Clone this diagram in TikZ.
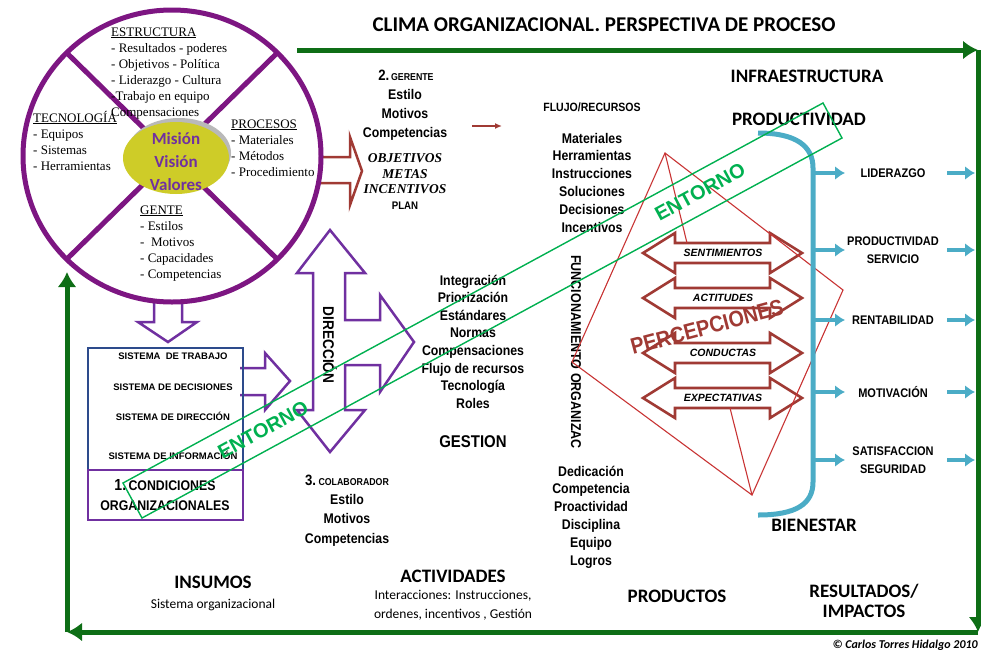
\documentclass[tikz,border=0pt]{standalone}
\usepackage{fontspec}
\setmainfont{Liberation Serif}
\newfontfamily\arialfont{Liberation Sans}
\newfontfamily\narrowfont[FakeStretch=0.88]{Liberation Sans}
\newfontfamily\calibrifont{Carlito}
\usepackage{xcolor}
\usepackage{tikz}
\usetikzlibrary{arrows.meta}

\definecolor{framegreen}{RGB}{14,110,22}
\definecolor{wheelpurple}{RGB}{125,22,130}
\definecolor{arrowpurple}{RGB}{112,48,160}
\definecolor{boxblue}{RGB}{45,75,140}
\definecolor{darkred}{RGB}{160,58,52}
\definecolor{linered}{RGB}{200,52,52}
\definecolor{entornogreen}{RGB}{0,176,80}
\definecolor{aqua}{RGB}{75,172,198}
\definecolor{coreyellow}{RGB}{206,204,40}

\tikzset{
  frame/.style={draw=framegreen, line width=5pt, -{Latex[length=15pt,width=19pt]}},
  wheel/.style={draw=wheelpurple, line width=5pt},
  hollowpurple/.style={draw=arrowpurple, line width=2.5pt, fill=white, line join=miter},
  hollowred/.style={draw=darkred, line width=2.5pt, fill=white, line join=miter},
  dblarrow/.style={draw=darkred, line width=2.6pt, fill=white, line join=miter},
  redline/.style={draw=linered, line width=1.1pt},
  entorno/.style={draw=entornogreen, line width=1.4pt},
  aquaarrow/.style={draw=aqua, line width=4pt, -{Latex[length=10pt,width=14pt]}},
  circtxt/.style={font=\fontsize{13}{15}\selectfont, anchor=base west, inner sep=0pt},
  midtxt/.style={font=\narrowfont\bfseries\fontsize{14}{16}\selectfont, anchor=base, inner sep=0pt},
  systxt/.style={font=\arialfont\bfseries\fontsize{9.5}{11}\selectfont, anchor=base, inner sep=0pt},
  bigtxt/.style={font=\calibrifont\bfseries\fontsize{19}{22}\selectfont, anchor=base, inner sep=0pt},
  smalltxt/.style={font=\calibrifont\fontsize{13.5}{16}\selectfont, anchor=base, inner sep=0pt},
  arrowtxt/.style={font=\arialfont\bfseries\itshape\fontsize{10.5}{12}\selectfont, anchor=base, inner sep=0pt},
}

\begin{document}
\begin{tikzpicture}[x=1pt, y=-1pt]
\useasboundingbox (0,0) rectangle (981,651);

% process loop
\coordinate (ftl) at (297,50);
\coordinate (ftr) at (978,50);
\coordinate (fbr) at (978,632);
\coordinate (fbl) at (67,632);
\coordinate (fl) at (67,272);
\draw[frame] (ftl) -- (ftr);
\draw[frame] (ftr) -- (fbr);
\draw[frame] (fbr) -- (fbl);
\draw[frame] (fbl) -- (fl);
\node[bigtxt, font=\calibrifont\bfseries\fontsize{21}{24}\selectfont] (title) at (604,31) {CLIMA ORGANIZACIONAL. PERSPECTIVA DE PROCESO};

% hollow arrows leaving the wheel
\draw[hollowred] (315,157) -- (350,157) -- (350,137) -- (362,171) -- (350,205) -- (350,183) -- (315,183);
\draw[hollowpurple] (154,296) -- (182,296) -- (182,322) -- (197,322) -- (168,342) -- (138,322) -- (154,322) -- cycle;

% the wheel
\coordinate (org) at (172,156);
\draw[wheel, fill=white] (org) ellipse [x radius=149pt, y radius=146pt];
\draw[wheel] (org) +(135:149pt and 146pt) -- +(-45:149pt and 146pt);
\draw[wheel] (org) +(45:149pt and 146pt) -- +(-135:149pt and 146pt);

\foreach \t [count=\i from 0] in {\underline{ESTRUCTURA}, - Resultados - poderes,
    - Objetivos - Política, - Liderazgo - Cultura, -Trabajo en equipo, Compensaciones}
  \node[circtxt] (estr\i) at (111,36+16*\i) {\t};
\foreach \t [count=\i from 0] in {\underline{TECNOLOGÍA}, - Equipos, - Sistemas, - Herramientas}
  \node[circtxt] (tec\i) at (33,122+16*\i) {\t};
\foreach \t [count=\i from 0] in {\underline{PROCESOS}, - Materiales, - Métodos, - Procedimiento}
  \node[circtxt] (proc\i) at (231,128+16*\i) {\t};
\foreach \t [count=\i from 0] in {\underline{GENTE}, - Estilos, -\ \ Motivos, - Capacidades, - Competencias}
  \node[circtxt] (gen\i) at (140,214+16.2*\i) {\t};

% core of the wheel
\fill[gray!55] (179,153) ellipse [x radius=52pt, y radius=35pt];
\fill[coreyellow] (176,158) ellipse [x radius=53pt, y radius=36pt];
\foreach \t/\y [count=\i] in {Misión/144, Visión/167, Valores/190}
  \node[font=\calibrifont\bfseries\fontsize{17}{20}\selectfont, text=arrowpurple, anchor=base, inner sep=0pt] (core\i) at (176,\y) {\t};

% organisational conditions
\draw[hollowpurple] (240,368) -- (265,368) -- (265,353) -- (290,381) -- (265,410) -- (265,395) -- (240,395);
\draw[draw=boxblue, line width=2.5pt] (88,348) rectangle (243,470);
\draw[draw=arrowpurple, line width=1.2pt] (88,470) rectangle (243,520);
\foreach \t/\y [count=\i] in {SISTEMA\ \ DE TRABAJO/359, SISTEMA DE DECISIONES/390,
    SISTEMA DE DIRECCIÓN/420, SISTEMA DE INFORMACIÓN/459}
  \node[systxt] (sis\i) at (173,\y) {\t};
\node[midtxt] (cond1) at (165,490) {{\fontsize{16}{16}\selectfont 1.}\,CONDICIONES};
\node[midtxt] (cond2) at (165,510) {ORGANIZACIONALES};

% direction arrow
\draw[hollowpurple] (330,230) -- (365,273) -- (345,273) -- (345,320) -- (380,320) -- (380,295)
  -- (414,342) -- (380,392) -- (380,365) -- (345,365) -- (345,410) -- (365,410) -- (330,452)
  -- (297,410) -- (313,410) -- (313,273) -- (297,273) -- cycle;
\node[font=\narrowfont\bfseries\fontsize{15.5}{17}\selectfont, rotate=-90] (dir) at (330,345) {DIRECCIÓN};

% manager and collaborator
\node[midtxt] (ger) at (406,80) {{\fontsize{15}{15}\selectfont 2.}{\fontsize{10}{10}\selectfont\,GERENTE}};
\foreach \t [count=\i from 0] in {Estilo, Motivos, Competencias}
  \node[midtxt] (ger\i) at (405,99+19*\i) {\t};
\foreach \t [count=\i from 0] in {OBJETIVOS, METAS, INCENTIVOS}
  \node[font=\bfseries\itshape\fontsize{13.5}{15}\selectfont, anchor=base, inner sep=0pt] (obj\i) at (405,162.5+15.5*\i) {\t};
\node[font=\narrowfont\bfseries\fontsize{11}{12}\selectfont, anchor=base, inner sep=0pt] (plan) at (405,209) {PLAN};
\node[midtxt] (col) at (347,485) {{\fontsize{15}{15}\selectfont 3.}{\fontsize{10}{10}\selectfont\ COLABORADOR}};
\foreach \t [count=\i from 0] in {Estilo, Motivos, Competencias}
  \node[midtxt] (col\i) at (347,504+19.5*\i) {\t};

% resources and management
\coordinate (flow-a) at (472,126);
\coordinate (flow-b) at (502,126);
\draw[draw=darkred, line width=1.6pt, -{Latex[length=7pt,width=6pt]}] (flow-a) -- (flow-b);
\node[font=\narrowfont\bfseries\fontsize{12}{14}\selectfont, anchor=base, inner sep=0pt] (flujo) at (592,111) {FLUJO/RECURSOS};
\foreach \t [count=\i from 0] in {Materiales, Herramientas, Instrucciones, Soluciones, Decisiones, Incentivos}
  \node[midtxt] (rec\i) at (592,143+17.8*\i) {\t};
\foreach \t [count=\i from 0] in {Integración, Priorización, Estándares, Normas, Compensaciones,
    Flujo de recursos, Tecnología, Roles}
  \node[midtxt] (gest\i) at (473,285+17.6*\i) {\t};
\node[font=\narrowfont\bfseries\fontsize{17}{19}\selectfont, anchor=base, inner sep=0pt] (gestion) at (473,447) {GESTION};
\node[font=\narrowfont\bfseries\fontsize{14.2}{16}\selectfont, rotate=-90] (func) at (576,352) {FUNCIONAMIENTO ORGANIZAC};
\foreach \t [count=\i from 0] in {Dedicación, Competencia, Proactividad, Disciplina, Equipo, Logros}
  \node[midtxt] (prod\i) at (591,476+17.8*\i) {\t};

% perceptions
\foreach \c/\t [count=\i] in {253/SENTIMIENTOS, 298/ACTITUDES, 353/CONDUCTAS, 398/EXPECTATIVAS} {
  \draw[dblarrow] (643,\c) -- (675,\c-20) -- (675,\c-10) -- (770,\c-10) -- (770,\c-20) -- (802,\c)
    -- (770,\c+20) -- (770,\c+10) -- (675,\c+10) -- (675,\c+20) -- cycle;
  \node[arrowtxt] (perc\i) at (723,\c+3.8) {\t};
}
\coordinate (pt) at (665,153);
\coordinate (pr) at (843,290);
\coordinate (pb) at (752,495);
\coordinate (pl) at (572,362);
\draw[redline] (pt) -- (pr) -- (pb) -- (pl) -- cycle;
\draw[redline] (pt) -- (687,243);
\draw[redline] (pb) -- (730,408);
\node[font=\narrowfont\bfseries\fontsize{22.5}{24}\selectfont, text=darkred, rotate=15] (percep) at (707,327) {PERCEPCIONES};

% results
\node[bigtxt] (infra) at (807,82) {INFRAESTRUCTURA};
\node[bigtxt] (product) at (799,125) {PRODUCTIVIDAD};
\node[bigtxt] (bienestar) at (814,531) {BIENESTAR};
\draw[draw=aqua, line width=5pt] (758,133) .. controls (796,133) and (813,146) .. (813,168)
  -- (813,482) .. controls (813,504) and (796,515) .. (758,515);
\foreach \y/\t [count=\i] in {173/{LIDERAZGO}, 250/{PRODUCTIVIDAD\\SERVICIO}, 320/{RENTABILIDAD},
    392/{MOTIVACIÓN}, 460/{SATISFACCION\\SEGURIDAD}} {
  \coordinate (brk\i) at (813,\y);
  \coordinate (lab\i) at (845,\y);
  \coordinate (exit\i) at (975,\y);
  \node[font=\narrowfont\bfseries\fontsize{12.5}{18}\selectfont, align=center, inner sep=0pt] (res\i) at (893,\y) {\t};
  \draw[aquaarrow] (brk\i) -- (lab\i);
  \draw[aquaarrow] (exit\i) ++(-28,0) -- (exit\i);
}

% environment band
\draw[entorno] (142,518) -- (842,138) -- (823,103) -- (123,483) -- cycle;
\node[font=\arialfont\bfseries\fontsize{20}{22}\selectfont, text=entornogreen, rotate=28.5] (ent1) at (700,192) {ENTORNO};
\node[font=\arialfont\bfseries\fontsize{20}{22}\selectfont, text=entornogreen, rotate=28.5] (ent2) at (263,430) {ENTORNO};

% process stages
\node[bigtxt] (insumos) at (213,588) {INSUMOS};
\node[smalltxt] (insumos2) at (213,608.5) {Sistema organizacional};
\node[bigtxt] (activ) at (453,582) {ACTIVIDADES};
\node[smalltxt] (activ2) at (453,599.5) {Interacciones: Instrucciones,};
\node[smalltxt] (activ3) at (453,618.5) {ordenes, incentivos , Gestión};
\node[bigtxt] (productos) at (677,602) {PRODUCTOS};
\node[bigtxt] (result1) at (864,597) {RESULTADOS/};
\node[bigtxt] (result2) at (864,617) {IMPACTOS};
\node[font=\calibrifont\bfseries\itshape\fontsize{12}{14}\selectfont, anchor=base east, inner sep=0pt] (autor) at (978,648) {© Carlos Torres Hidalgo 2010};
\end{tikzpicture}
\end{document}
